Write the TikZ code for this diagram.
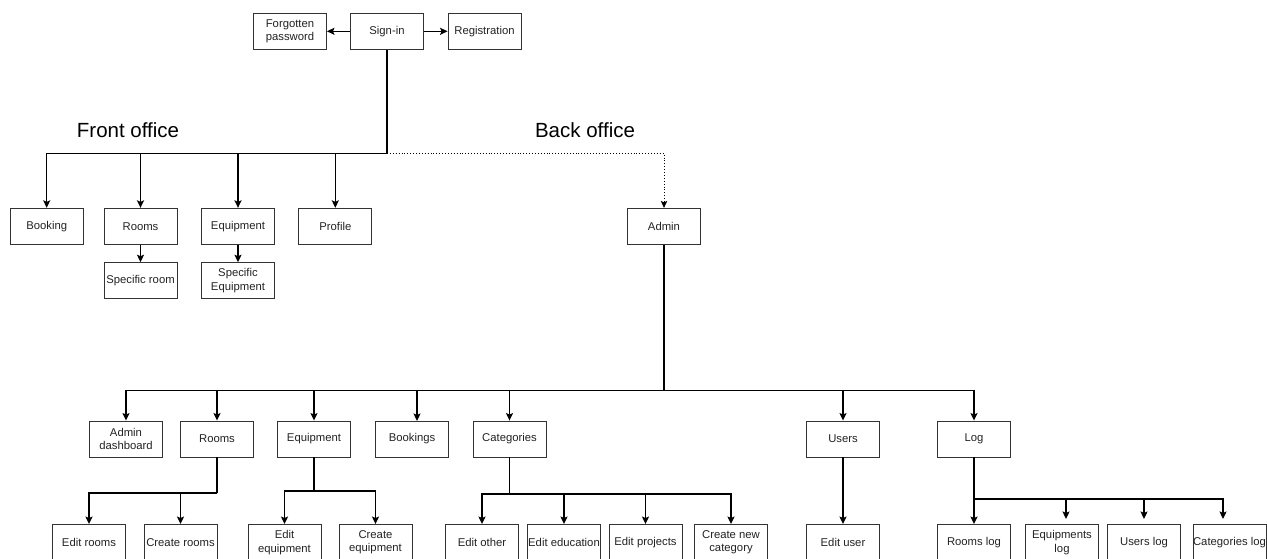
\documentclass[tikz,border=0pt]{standalone}
\usepackage{fontspec}
\setmainfont{Liberation Sans}
\usetikzlibrary{arrows.meta}
\definecolor{boxline}{HTML}{333333}
\definecolor{txt}{HTML}{222222}
\tikzset{
  box/.style={draw=boxline, line width=0.9pt, minimum width=73pt, minimum height=36pt,
    inner sep=0pt, align=center, text=txt, font=\fontsize{11.3}{13.3}\selectfont},
  conn/.style={draw=black, line width=1.5pt, -{Stealth[length=7.5pt,width=7pt,inset=1.5pt]}},
  plain/.style={draw=black, line width=1.5pt},
  dotconn/.style={draw=black, line width=0.9pt, dotted, -{Stealth[length=7pt,width=6.5pt,inset=1.5pt]}},
  heading/.style={text=black, font=\fontsize{20.5}{24}\selectfont, inner sep=0pt}
}
\begin{document}
\begin{tikzpicture}[x=1pt,y=-1pt]
\useasboundingbox (0,0) rectangle (1267,559);

% top row
\node[box] (forgot) at (290,31.3) {Forgotten\\password};
\node[box] (signin) at (387,31.3) {Sign-in};
\node[box] (reg) at (484.5,31.3) {Registration};

% headings
\node[heading] (front) at (128,130) {Front office};
\node[heading] (back) at (585,130) {Back office};

% front row
\node[box] (booking) at (46.7,226.3) {Booking};
\node[box] (rooms) at (140.5,226.3) {Rooms};
\node[box] (equip) at (238,226.3) {Equipment};
\node[box] (profile) at (335.3,226.3) {Profile};
\node[box] (admin) at (664,226.3) {Admin};

\node[box] (sroom) at (140.5,280.7) {Specific room};
\node[box] (sequip) at (238,280.7) {Specific\\Equipment};

% admin row
\node[box] (adash) at (126,439) {Admin\\dashboard};
\node[box] (arooms) at (217,439) {Rooms};
\node[box] (aequip) at (314,439) {Equipment};
\node[box] (abook) at (412,439) {Bookings};
\node[box] (acat) at (509.5,439) {Categories};
\node[box] (ausers) at (843,439) {Users};
\node[box] (alog) at (974,439) {Log};

% bottom row
\node[box] (editrooms) at (89,542.5) {Edit rooms};
\node[box] (createrooms) at (180.5,542.5) {Create rooms};
\node[box] (editequip) at (284.5,542.5) {Edit\\equipment};
\node[box] (createequip) at (375.5,542.5) {Create\\equipment};
\node[box] (editother) at (482,542.5) {Edit other};
\node[box] (editedu) at (564,542.5) {Edit education};
\node[box] (editproj) at (645.5,542.5) {Edit projects};
\node[box] (newcat) at (731,542.5) {Create new\\category};
\node[box] (edituser) at (843,542.5) {Edit user};
\node[box] (roomslog) at (974,542.5) {Rooms log};
\node[box] (equiplog) at (1062,542.5) {Equipments\\log};
\node[box] (userslog) at (1144,542.5) {Users log};
\node[box] (catlog) at (1229.5,542.5) {Categories log};

% junction coordinates
\coordinate (fo) at (387,153.3);
\coordinate (ba) at (664,390.5);
\coordinate (rb) at (217,493);
\coordinate (eb) at (314,491);
\coordinate (cb) at (509.5,494);
\coordinate (lb) at (974,499);
\coordinate (booktip) at (417,421);
\coordinate (eqlogtip) at (1066,519);
\coordinate (uslogtip) at (1144,519);
\coordinate (catlogtip) at (1223,519);

% top connectors
\draw[conn] (signin.west) -- (forgot.east);
\draw[conn] (signin.east) -- (reg.west);
\draw[plain] (signin.south) -- (fo);
\draw[conn] (fo) -| (booking.north);
\draw[conn] (fo) -| (rooms.north);
\draw[conn] (fo) -| (equip.north);
\draw[conn] (fo) -| (profile.north);
\draw[dotconn] (fo) -| (admin.north);
\draw[conn] (rooms.south) -- (sroom.north);
\draw[conn] (equip.south) -- (sequip.north);

% admin connectors
\draw[plain] (admin.south) -- (ba);
\draw[conn] (ba) -| (adash.north);
\draw[conn] (ba) -| (arooms.north);
\draw[conn] (ba) -| (aequip.north);
\draw[conn] (ba) -| (booktip);
\draw[conn] (ba) -| (acat.north);
\draw[conn] (ba) -| (ausers.north);
\draw[conn] (ba) -| (alog.north);

% rooms branch
\draw[plain] (arooms.south) -- (rb);
\draw[conn] (rb) -| (editrooms.north);
\draw[conn] (rb) -| (createrooms.north);

% equipment branch
\draw[plain] (aequip.south) -- (eb);
\draw[conn] (eb) -| (editequip.north);
\draw[conn] (eb) -| (createequip.north);

% categories branch
\draw[plain] (acat.south) -- (cb);
\draw[conn] (cb) -| (editother.north);
\draw[conn] (cb) -| (editedu.north);
\draw[conn] (cb) -| (editproj.north);
\draw[conn] (cb) -| (newcat.north);

% users
\draw[conn] (ausers.south) -- (edituser.north);

% log branch
\draw[plain] (alog.south) -- (lb);
\draw[conn] (lb) -- (roomslog.north);
\draw[conn] (lb) -| (eqlogtip);
\draw[conn] (lb) -| (uslogtip);
\draw[conn] (lb) -| (catlogtip);
\end{tikzpicture}
\end{document}
